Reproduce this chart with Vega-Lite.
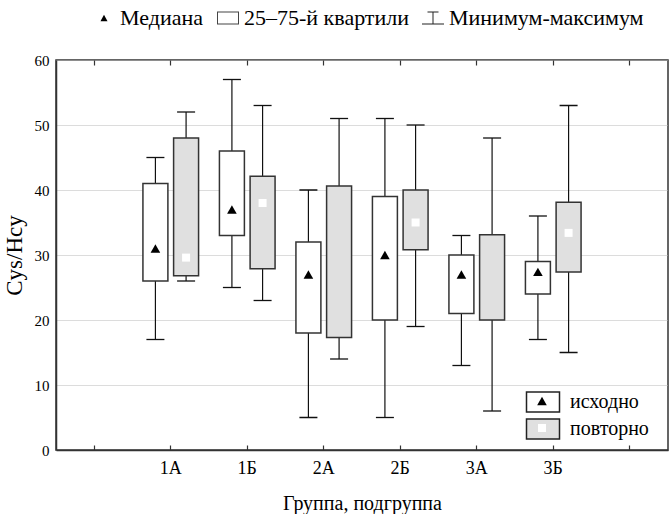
{
  "$schema": "https://vega.github.io/schema/vega-lite/v6.json",
  "width": 612,
  "height": 390,
  "autosize": "none",
  "padding": {"left": 56, "top": 60, "right": 1, "bottom": 64},
  "background": "#ffffff",
  "config": {
    "font": "Liberation Serif",
    "view": {"stroke": "#333333", "strokeWidth": 1.5},
    "axis": {
      "labelFont": "Liberation Serif",
      "titleFont": "Liberation Serif",
      "labelColor": "#000000",
      "titleColor": "#000000",
      "titleFontWeight": "normal",
      "domainColor": "#333333",
      "domainWidth": 1.5,
      "tickColor": "#333333"
    },
    "legend": {
      "labelFont": "Liberation Serif",
      "labelColor": "#000000",
      "padding": 0,
      "labelLimit": 400
    }
  },
  "datasets": {
    "boxes": [
      {"group": "1А", "series": "исходно", "min": 17, "q1": 26, "median": 31, "q3": 41, "max": 45},
      {"group": "1А", "series": "повторно", "min": 26, "q1": 26.8, "median": 29.6, "q3": 48, "max": 52},
      {"group": "1Б", "series": "исходно", "min": 25, "q1": 33, "median": 37, "q3": 46, "max": 57},
      {"group": "1Б", "series": "повторно", "min": 23, "q1": 27.9, "median": 38, "q3": 42.1, "max": 53},
      {"group": "2А", "series": "исходно", "min": 5, "q1": 18, "median": 27, "q3": 32, "max": 40},
      {"group": "2А", "series": "повторно", "min": 14, "q1": 17.3, "median": null, "q3": 40.6, "max": 51},
      {"group": "2Б", "series": "исходно", "min": 5, "q1": 20, "median": 30, "q3": 39, "max": 51},
      {"group": "2Б", "series": "повторно", "min": 19, "q1": 30.8, "median": 35, "q3": 40, "max": 50},
      {"group": "3А", "series": "исходно", "min": 13, "q1": 21, "median": 27, "q3": 30, "max": 33},
      {"group": "3А", "series": "повторно", "min": 6, "q1": 20, "median": null, "q3": 33.1, "max": 48},
      {"group": "3Б", "series": "исходно", "min": 17, "q1": 24, "median": 27.4, "q3": 29, "max": 36},
      {"group": "3Б", "series": "повторно", "min": 15, "q1": 27.4, "median": 33.4, "q3": 38.1, "max": 53}
    ],
    "key": [
      {"item": "Медиана"},
      {"item": "25–75-й квартили"},
      {"item": "Минимум-максимум"}
    ]
  },
  "layer": [
    {
      "data": {"name": "boxes"},
      "mark": {"type": "rule", "color": "#111111", "strokeWidth": 1.2},
      "encoding": {
        "x": {
          "field": "group", "type": "nominal",
          "scale": {"domain": ["", "1А", "1Б", "2А", "2Б", "3А", "3Б", " "], "paddingInner": 0, "paddingOuter": 0},
          "axis": {
            "orient": "bottom", "title": "Группа, подгруппа", "labelAngle": 0,
            "labelFont": "Liberation Serif", "titleFont": "Liberation Serif",
            "labelFontSize": 18, "titleFontSize": 20, "bandPosition": 0.5,
            "tickSize": -5, "tickWidth": 1.2, "labelPadding": 14, "titlePadding": 16, "grid": false
          }
        },
        "xOffset": {
          "field": "series", "type": "nominal",
          "scale": {"domain": ["исходно", "повторно"], "paddingInner": 0.186, "paddingOuter": 0.34}
        },
        "y": {
          "field": "min", "type": "quantitative",
          "scale": {"domain": [0, 60], "nice": false, "zero": false},
          "axis": {
            "title": "Cys/Hcy", "values": [0, 10, 20, 30, 40, 50, 60],
            "labelFont": "Liberation Serif", "titleFont": "Liberation Serif",
            "grid": true, "gridColor": "#b8b8b8", "gridDash": [1, 1], "gridWidth": 1,
            "ticks": false, "labelPadding": 7, "labelFontSize": 15,
            "titleFontSize": 23, "titlePadding": 8
          }
        },
        "y2": {"field": "max"}
      }
    },
    {
      "data": {"name": "boxes"},
      "mark": {"type": "tick", "color": "#111111", "size": 18, "thickness": 1.3, "opacity": 1},
      "encoding": {
        "x": {
          "field": "group", "type": "nominal",
          "axis": {
            "orient": "top", "title": null, "labels": false, "domain": false,
            "bandPosition": 0.5, "tickSize": -5, "tickWidth": 1.2, "grid": false
          }
        },
        "xOffset": {"field": "series", "type": "nominal"},
        "y": {"field": "max", "type": "quantitative"}
      }
    },
    {
      "data": {"name": "boxes"},
      "mark": {"type": "tick", "color": "#111111", "size": 18, "thickness": 1.3, "opacity": 1},
      "encoding": {
        "x": {"field": "group", "type": "nominal", "axis": null},
        "xOffset": {"field": "series", "type": "nominal"},
        "y": {"field": "min", "type": "quantitative"}
      }
    },
    {
      "data": {"name": "boxes"},
      "mark": {"type": "bar", "stroke": "#333333", "strokeWidth": 1.5},
      "encoding": {
        "x": {"field": "group", "type": "nominal", "axis": null},
        "xOffset": {"field": "series", "type": "nominal"},
        "y": {"field": "q1", "type": "quantitative"},
        "y2": {"field": "q3"},
        "fill": {
          "field": "series", "type": "nominal",
          "scale": {"domain": ["исходно", "повторно"], "range": ["#ffffff", "#e0e0e0"]},
          "legend": {
            "title": null, "orient": "none", "legendX": 476, "legendY": 331,
            "symbolType": "M-1.65,-1H1.65V1H-1.65Z", "symbolSize": 400,
            "symbolStrokeColor": "#222222", "symbolStrokeWidth": 1.5,
            "labelFont": "Liberation Serif",
            "labelFontSize": 20, "labelOffset": 16, "rowPadding": 1
          }
        }
      }
    },
    {
      "data": {"name": "boxes"},
      "mark": {"type": "point", "filled": true, "opacity": 1, "size": 400, "strokeWidth": 0},
      "encoding": {
        "x": {"field": "group", "type": "nominal", "axis": null},
        "xOffset": {"field": "series", "type": "nominal"},
        "y": {"field": "median", "type": "quantitative"},
        "shape": {
          "field": "series", "type": "nominal",
          "scale": {"range": ["M-1.73,-1.25M1.73,1.25M0,-0.42L0.48,0.42H-0.48Z", "M-1.73,-1.25M1.73,1.25M-0.4,-0.4H0.4V0.4H-0.4Z"]},
          "legend": {
            "title": null, "orient": "none", "legendX": 476, "legendY": 331,
            "symbolSize": 400, "symbolStrokeWidth": 0,
            "labelFont": "Liberation Serif",
            "labelFontSize": 20, "labelOffset": 16, "rowPadding": 1,
            "labelExpr": "''"
          }
        },
        "color": {
          "field": "series", "type": "nominal",
          "scale": {"range": ["#000000", "#ffffff"]},
          "legend": {
            "title": null, "orient": "none", "legendX": 476, "legendY": 331,
            "symbolSize": 400, "symbolStrokeWidth": 0,
            "labelFont": "Liberation Serif",
            "labelFontSize": 20, "labelOffset": 16, "rowPadding": 1,
            "labelExpr": "''"
          }
        }
      }
    },
    {
      "data": {"name": "key"},
      "mark": {"type": "point", "filled": true, "opacity": 0},
      "encoding": {
        "shape": {
          "field": "item", "type": "nominal",
          "scale": {
            "domain": ["Медиана", "25–75-й квартили", "Минимум-максимум"],
            "range": [
              "M0,-0.3L0.32,0.3H-0.32Z",
              "M-1,-0.6H1V0.6H-1ZM-0.91,-0.51V0.51H0.91V-0.51Z",
              "M-0.5,-0.6H0.5V-0.51H-0.5ZM-0.045,-0.6H0.045V0.6H-0.045ZM-1,0.51H1V0.6H-1Z"
            ]
          },
          "legend": {
            "title": null, "orient": "none", "direction": "horizontal", "legendX": 37, "legendY": -53,
            "symbolSize": 484, "symbolStrokeWidth": 0, "symbolOpacity": 1,
            "labelFont": "Liberation Serif",
            "labelFontSize": 22, "labelOffset": 5, "columnPadding": 13, "labelLimit": 400
          }
        },
        "fill": {
          "field": "item", "type": "nominal",
          "scale": {
            "domain": ["Медиана", "25–75-й квартили", "Минимум-максимум"],
            "range": ["#000000", "#444444", "#222222"]
          },
          "legend": {
            "title": null, "orient": "none", "direction": "horizontal", "legendX": 37, "legendY": -53,
            "symbolSize": 484, "symbolStrokeWidth": 0, "symbolOpacity": 1,
            "labelFont": "Liberation Serif",
            "labelFontSize": 22, "labelOffset": 5, "columnPadding": 13, "labelLimit": 400
          }
        }
      }
    }
  ],
  "resolve": {
    "scale": {"shape": "independent", "fill": "independent", "color": "independent"},
    "axis": {"x": "independent"}
  }
}
